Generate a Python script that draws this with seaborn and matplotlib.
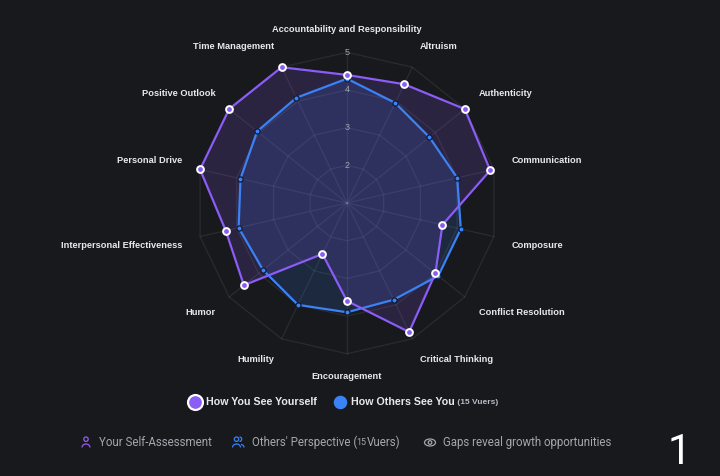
import numpy as np
import pandas as pd
import seaborn as sns
import matplotlib.pyplot as plt
from matplotlib.patches import Circle, Ellipse, Arc

categories = ["Accountability and Responsibility", "Altruism", "Authenticity",
              "Communication", "Composure", "Conflict Resolution", "Critical Thinking",
              "Encouragement", "Humility", "Humor", "Interpersonal Effectiveness",
              "Personal Drive", "Positive Outlook", "Time Management"]
self_scores = [4.4, 4.5, 5.0, 4.9, 3.6, 4.0, 4.8, 3.6, 2.5, 4.5, 4.3, 5.0, 5.0, 5.0]
others_scores = [4.3, 3.95, 3.8, 4.0, 4.1, 4.1, 3.85, 3.9, 4.0, 3.85, 3.95, 3.9, 4.05, 4.1]
radial_ticks = [2, 3, 4, 5]
n_vuers = 15

bg = '#17191d'
purple = '#8b5cf6'
blue = '#3b82f6'

sns.set_theme(style='dark', rc={'figure.facecolor': bg, 'axes.facecolor': bg,
                                'savefig.facecolor': bg})
plt.rcParams['font.family'] = ['Liberation Sans', 'DejaVu Sans']

n = len(categories)
theta = np.arange(n) * 2 * np.pi / n
theta_c = np.append(theta, 2 * np.pi)

df = pd.DataFrame({
    'theta': np.tile(theta_c, 2),
    'score': np.concatenate([np.append(self_scores, self_scores[0]),
                             np.append(others_scores, others_scores[0])]),
    'who': ['self'] * (n + 1) + ['others'] * (n + 1),
})
d_self = df[df.who == 'self']
d_oth = df[df.who == 'others']

fig = plt.figure(figsize=(7.2, 4.76), dpi=100)
ax = fig.add_axes([0.2726, 0.2569, 0.4186, 0.6332], projection='polar')
ax.set_theta_zero_location('N')
ax.set_theta_direction(-1)
ax.set_facecolor('none')
ax.grid(False)
ax.spines['polar'].set_visible(False)

# polygon grid + spokes
for t in radial_ticks:
    ax.plot(theta_c, [t] * (n + 1), color='white', alpha=0.08, lw=0.9, zorder=1)
for th in theta:
    ax.plot([th, th], [1, 5], color='white', alpha=0.08, lw=0.9, zorder=1)

# fills
ax.fill(d_oth.theta, d_oth.score, color=blue, alpha=0.16, lw=0, zorder=2)
ax.fill(d_self.theta, d_self.score, color=purple, alpha=0.17, lw=0, zorder=2)

sns.lineplot(data=d_oth, x='theta', y='score', sort=False, color=blue, lw=1.6,
             ax=ax, zorder=3)
sns.lineplot(data=d_self, x='theta', y='score', sort=False, color=purple, lw=1.6,
             ax=ax, zorder=4)
sns.scatterplot(data=d_oth.iloc[:-1], x='theta', y='score', color=blue, s=14,
                edgecolor='#0f1a33', linewidth=0.9, ax=ax, zorder=5)
sns.scatterplot(data=d_self.iloc[:-1], x='theta', y='score', color=purple, s=24,
                edgecolor='white', linewidth=1.4, ax=ax, zorder=6)
for art in ax.lines + ax.collections:
    art.set_clip_on(False)

ax.set_ylim(1, 5)
ax.set_xticks([])
ax.set_yticks([])
ax.set_xlabel('')
ax.set_ylabel('')

for t in radial_ticks:
    ax.text(0, t, str(t), ha='center', va='center', fontsize=6.5, color='#a0a4ae',
            zorder=7)

for th, lab in zip(theta, categories):
    deg = np.degrees(th)
    if np.isclose(deg, 0) or np.isclose(deg, 180):
        ha = 'center'
    elif deg < 180:
        ha = 'left'
    else:
        ha = 'right'
    va = 'bottom' if (deg < 90 or deg > 270) else 'top'
    ax.text(th, 5.475, lab, ha=ha, va=va, fontsize=6.65, fontweight='bold',
            color='#e8e9ec', clip_on=False)

# overlay in pixel coordinates for legend and footer
ov = fig.add_axes([0, 0, 1, 1], zorder=10)
ov.set_xlim(0, 720)
ov.set_ylim(476, 0)
ov.axis('off')
ov.patch.set_alpha(0)

ov.scatter([195], [402], s=115, color=purple, edgecolor='white', linewidth=1.6)
ov.scatter([340], [402], s=95, color=blue, linewidth=0)
ov.text(206, 402, 'How You See Yourself', fontsize=7.7, fontweight='bold',
        color='#e8e9ec', va='center')
t2 = ov.text(351, 402, 'How Others See You', fontsize=7.7, fontweight='bold',
             color='#e8e9ec', va='center')
ov.annotate(f' ({n_vuers} Vuers)', xy=(1, 0.5), xycoords=t2, fontsize=6,
            fontweight='bold', color='#b8bcc5', va='center')

foot = dict(fontsize=8.3, color='#a3a7ae', va='center', family=['Roboto', 'DejaVu Sans'])
fy = 442.5


def person(x, y, c):
    ov.add_patch(Circle((x, y - 3.3), 2.2, fill=False, ec=c, lw=0.9))
    ov.add_patch(Arc((x, y + 5), 8, 7, theta1=180, theta2=360, ec=c, lw=0.9))


person(86, fy, '#9b5cf0')
person(236.5, fy, '#3b82f6')
ov.add_patch(Arc((241, fy + 5), 6, 6, theta1=270, theta2=360, ec='#3b82f6', lw=0.9))
ov.add_patch(Arc((239.5, fy - 3.3), 4.4, 4.4, theta1=270, theta2=90, ec='#3b82f6', lw=0.9))
ov.add_patch(Ellipse((430, fy), 11, 7, fill=False, ec='#a3a7ae', lw=0.9))
ov.add_patch(Circle((430, fy), 1.8, fill=False, ec='#a3a7ae', lw=0.9))

ov.text(99, fy, 'Your Self-Assessment', **foot)
p1 = ov.text(251.5, fy, "Others' Perspective (", **foot)
p2 = ov.annotate(str(n_vuers), xy=(1, 0.5), xycoords=p1, fontsize=6.5, color='#a3a7ae',
                 va='center', family=['Roboto', 'DejaVu Sans'])
ov.annotate('Vuers)', xy=(1, 0.5), xycoords=p2, fontsize=8.3, color='#a3a7ae',
            va='center', family=['Roboto', 'DejaVu Sans'])
ov.text(443, fy, 'Gaps reveal growth opportunities', **foot)

ov.text(679, 453, '1', fontsize=30, color='white', ha='center', va='center',
        family=['Roboto', 'DejaVu Sans'])

fig.savefig('out.png', dpi=100, facecolor=bg)
